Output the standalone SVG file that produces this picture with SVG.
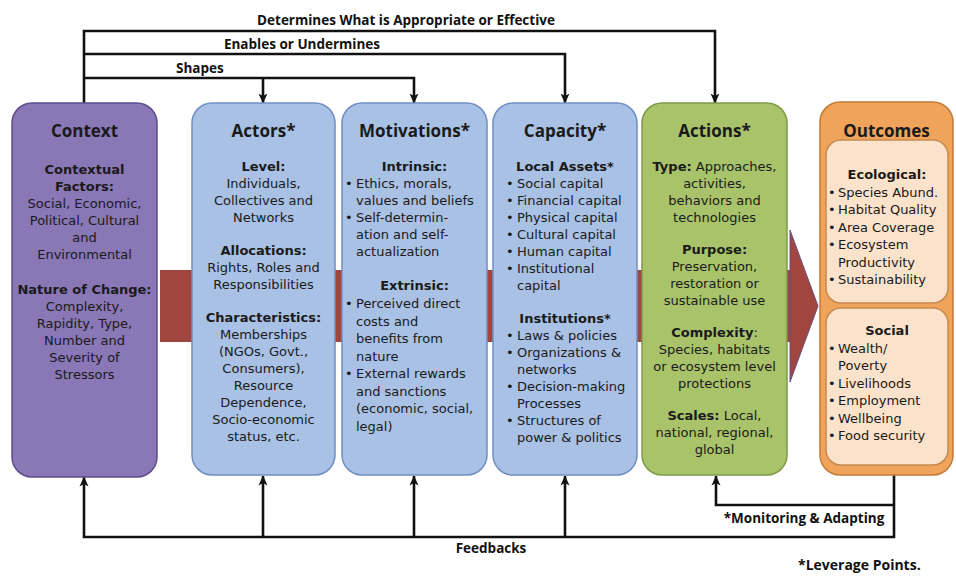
<svg xmlns="http://www.w3.org/2000/svg" width="956" height="576" viewBox="0 0 956 576">
  <defs>
    <style>
      .t { font-family: "DejaVu Sans", "Open Sans", sans-serif; font-size: 13px; fill: #1a1a1a; }
      .b { font-weight: bold; }
      .h { font-family: "Open Sans", "DejaVu Sans", sans-serif; font-size: 17px; font-weight: bold; }
      .c { text-anchor: middle; }
      .lbl { font-family: "Open Sans", "Liberation Sans", sans-serif; font-size: 13.5px; font-weight: bold; fill: #111; }
      .conn { fill: none; stroke: #111; stroke-width: 2.6; stroke-linejoin: miter; }
      .purple { fill: #8977b6; stroke: #5e4d8c; stroke-width: 1.5; }
      .blue { fill: #a8c1e5; stroke: #6f8fc2; stroke-width: 1.5; }
      .green { fill: #a9c36b; stroke: #7e9a45; stroke-width: 1.5; }
      .orange { fill: #f0a45b; stroke: #c27a36; stroke-width: 1.5; }
      .peach { fill: #fbe2ca; stroke: #c58a52; stroke-width: 1.5; }
    </style>
    <marker id="ah" viewBox="0 0 10 10" refX="9.5" refY="5" markerWidth="10" markerHeight="10" markerUnits="userSpaceOnUse" orient="auto">
      <path d="M0,0.5 L10,5 L0,9.5 L2.5,5 z" fill="#111"/>
    </marker>
  </defs>

  <rect width="956" height="576" fill="#ffffff"/>

  <!-- flow band behind the boxes -->
  <g id="flow-arrow">
    <rect x="160" y="270" width="632" height="72" fill="#a1453f"/>
    <polygon points="790,230 818,306 790,382" fill="#a1453f" stroke="#6a4c7e" stroke-width="1"/>
  </g>

  <!-- connectors -->
  <g id="connectors" class="conn">
    <path d="M84,103 V31 H715 V103" marker-end="url(#ah)"/>
    <path d="M84,54 H565 V103" marker-end="url(#ah)"/>
    <path d="M84,78 H414 V103" marker-end="url(#ah)"/>
    <path d="M263,78 V103" marker-end="url(#ah)"/>
    <path d="M894,475 V537 H84 V477" marker-end="url(#ah)"/>
    <path d="M263,537 V476" marker-end="url(#ah)"/>
    <path d="M414,537 V476" marker-end="url(#ah)"/>
    <path d="M565,537 V476" marker-end="url(#ah)"/>
    <path d="M894,505 H716 V476" marker-end="url(#ah)"/>
  </g>

  <!-- connector labels -->
  <g id="labels">
    <text class="lbl c" x="406" y="25">Determines What is Appropriate or Effective</text>
    <text class="lbl c" x="302" y="49">Enables or Undermines</text>
    <text class="lbl" x="176" y="73">Shapes</text>
    <text class="lbl c" x="804" y="523">*Monitoring &amp; Adapting</text>
    <text class="lbl c" x="491" y="553">Feedbacks</text>
    <text class="lbl" x="798" y="570" style="font-size:14px">*Leverage Points.</text>
  </g>

  <!-- Context -->
  <g id="context">
    <rect class="purple" x="12" y="103" width="145" height="374" rx="20"/>
    <text class="t h c" x="84.5" y="137">Context</text>
    <g class="t c">
      <text class="b" x="84.5" y="174">Contextual</text>
      <text class="b" x="84.5" y="191">Factors:</text>
      <text x="84.5" y="208">Social, Economic,</text>
      <text x="84.5" y="225">Political,  Cultural</text>
      <text x="84.5" y="242">and</text>
      <text x="84.5" y="259">Environmental</text>
      <text class="b" x="84.5" y="294">Nature of Change:</text>
      <text x="84.5" y="311">Complexity,</text>
      <text x="84.5" y="328">Rapidity, Type,</text>
      <text x="84.5" y="345">Number and</text>
      <text x="84.5" y="362">Severity of</text>
      <text x="84.5" y="379">Stressors</text>
    </g>
  </g>

  <!-- Actors -->
  <g id="actors">
    <rect class="blue" x="192" y="103" width="143" height="372" rx="20"/>
    <text class="t h c" x="263.5" y="137">Actors*</text>
    <g class="t c">
      <text class="b" x="263.5" y="171">Level:</text>
      <text x="263.5" y="188">Individuals,</text>
      <text x="263.5" y="205">Collectives and</text>
      <text x="263.5" y="222">Networks</text>
      <text class="b" x="263.5" y="255">Allocations:</text>
      <text x="263.5" y="272">Rights, Roles and</text>
      <text x="263.5" y="289">Responsibilities</text>
      <text class="b" x="263.5" y="322">Characteristics:</text>
      <text x="263.5" y="339">Memberships</text>
      <text x="263.5" y="356">(NGOs, Govt.,</text>
      <text x="263.5" y="373">Consumers),</text>
      <text x="263.5" y="390">Resource</text>
      <text x="263.5" y="407">Dependence,</text>
      <text x="263.5" y="424">Socio-economic</text>
      <text x="263.5" y="441">status, etc.</text>
    </g>
  </g>

  <!-- Motivations -->
  <g id="motivations">
    <rect class="blue" x="342" y="103" width="145" height="372" rx="20"/>
    <text class="t h c" x="414.5" y="137">Motivations*</text>
    <g class="t">
      <text class="b c" x="414.5" y="171">Intrinsic:</text>
      <text x="345" y="188">•</text><text x="356" y="188">Ethics, morals,</text>
      <text x="356" y="205">values and beliefs</text>
      <text x="345" y="222">•</text><text x="356" y="222">Self-determin-</text>
      <text x="356" y="239">ation and self-</text>
      <text x="356" y="256">actualization</text>
      <text class="b c" x="414.5" y="290">Extrinsic:</text>
      <text x="345" y="308">•</text><text x="356" y="308">Perceived direct</text>
      <text x="356" y="325.5">costs and</text>
      <text x="356" y="343">benefits from</text>
      <text x="356" y="360.5">nature</text>
      <text x="345" y="378">•</text><text x="356" y="378">External rewards</text>
      <text x="356" y="395.5">and sanctions</text>
      <text x="356" y="413">(economic, social,</text>
      <text x="356" y="430.5">legal)</text>
    </g>
  </g>

  <!-- Capacity -->
  <g id="capacity">
    <rect class="blue" x="493" y="103" width="144" height="372" rx="20"/>
    <text class="t h c" x="565" y="137">Capacity*</text>
    <g class="t">
      <text class="b c" x="565" y="171">Local Assets*</text>
      <text x="506" y="188">•</text><text x="517" y="188">Social capital</text>
      <text x="506" y="205">•</text><text x="517" y="205">Financial capital</text>
      <text x="506" y="222">•</text><text x="517" y="222">Physical capital</text>
      <text x="506" y="239">•</text><text x="517" y="239">Cultural capital</text>
      <text x="506" y="256">•</text><text x="517" y="256">Human capital</text>
      <text x="506" y="273">•</text><text x="517" y="273">Institutional</text>
      <text x="517" y="290">capital</text>
      <text class="b c" x="565" y="323">Institutions*</text>
      <text x="506" y="340">•</text><text x="517" y="340">Laws &amp; policies</text>
      <text x="506" y="357">•</text><text x="517" y="357">Organizations &amp;</text>
      <text x="517" y="374">networks</text>
      <text x="506" y="391">•</text><text x="517" y="391">Decision-making</text>
      <text x="517" y="408">Processes</text>
      <text x="506" y="425">•</text><text x="517" y="425">Structures of</text>
      <text x="517" y="442">power &amp; politics</text>
    </g>
  </g>

  <!-- Actions -->
  <g id="actions">
    <rect class="green" x="642" y="103" width="145" height="372" rx="20"/>
    <text class="t h c" x="714.5" y="137">Actions*</text>
    <g class="t c">
      <text x="714.5" y="171"><tspan class="b">Type:</tspan> Approaches,</text>
      <text x="714.5" y="188">activities,</text>
      <text x="714.5" y="205">behaviors and</text>
      <text x="714.5" y="222">technologies</text>
      <text class="b" x="714.5" y="254">Purpose:</text>
      <text x="714.5" y="271">Preservation,</text>
      <text x="714.5" y="288">restoration or</text>
      <text x="714.5" y="305">sustainable use</text>
      <text x="714.5" y="337"><tspan class="b">Complexity</tspan>:</text>
      <text x="714.5" y="354">Species, habitats</text>
      <text x="714.5" y="371">or ecosystem level</text>
      <text x="714.5" y="388">protections</text>
      <text x="714.5" y="420"><tspan class="b">Scales:</tspan> Local,</text>
      <text x="714.5" y="437">national, regional,</text>
      <text x="714.5" y="454">global</text>
    </g>
  </g>

  <!-- Outcomes -->
  <g id="outcomes">
    <rect class="orange" x="820" y="102" width="133" height="373" rx="20"/>
    <text class="t h c" x="886.5" y="137">Outcomes</text>
    <g id="outcomes-ecological">
      <rect class="peach" x="826" y="140" width="122" height="163" rx="15"/>
      <g class="t">
        <text class="b c" x="887" y="179">Ecological:</text>
        <text x="828" y="196.5">•</text><text x="838" y="196.5">Species Abund.</text>
        <text x="828" y="214">•</text><text x="838" y="214">Habitat Quality</text>
        <text x="828" y="231.5">•</text><text x="838" y="231.5">Area Coverage</text>
        <text x="828" y="249">•</text><text x="838" y="249">Ecosystem</text>
        <text x="838" y="266.5">Productivity</text>
        <text x="828" y="284">•</text><text x="838" y="284">Sustainability</text>
      </g>
    </g>
    <g id="outcomes-social">
      <rect class="peach" x="826" y="308" width="122" height="157" rx="15"/>
      <g class="t">
        <text class="b c" x="887" y="335">Social</text>
        <text x="828" y="352.5">•</text><text x="838" y="352.5">Wealth/</text>
        <text x="838" y="370">Poverty</text>
        <text x="828" y="387.5">•</text><text x="838" y="387.5">Livelihoods</text>
        <text x="828" y="405">•</text><text x="838" y="405">Employment</text>
        <text x="828" y="422.5">•</text><text x="838" y="422.5">Wellbeing</text>
        <text x="828" y="440">•</text><text x="838" y="440">Food security</text>
      </g>
    </g>
  </g>
</svg>
